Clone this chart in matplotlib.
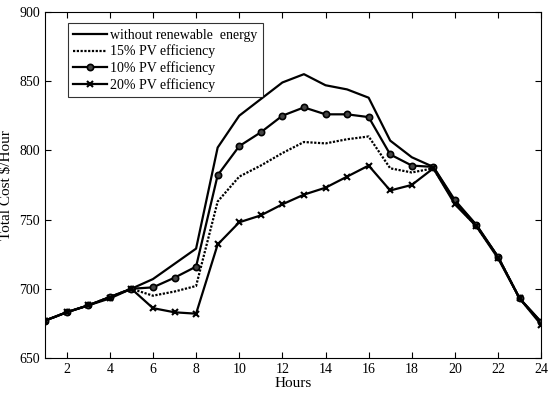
import matplotlib.pyplot as plt

plt.rcParams['font.family'] = ['Liberation Serif', 'DejaVu Serif']

hours = list(range(1, 25))

no_renewable = [677, 683, 688, 694, 700, 707, 718, 729, 802, 825, 837, 849,
                855, 847, 844, 838, 807, 795, 788, 763, 746, 723, 693, 676]
pv_15 = [677, 683, 688, 694, 700, 695, 698, 702, 763, 781, 789, 798,
         806, 805, 808, 810, 787, 784, 787, 762, 745, 723, 693, 675]
pv_10 = [677, 683, 688, 694, 700, 701, 708, 716, 782, 803, 813, 825,
         831, 826, 826, 824, 797, 789, 788, 764, 746, 723, 693, 676]
pv_20 = [677, 683, 688, 693, 700, 686, 683, 682, 732, 748, 753, 761,
         768, 773, 781, 789, 771, 775, 787, 761, 745, 722, 693, 674]

fig = plt.figure(figsize=(5.5, 3.96), dpi=100)
ax = fig.add_axes([0.082, 0.096, 0.902, 0.874])

ax.plot(hours, no_renewable, '-', color='black', lw=1.6, label='without renewable  energy')
ax.plot(hours, pv_15, linestyle=(0, (1, 0.7)), color='black', lw=1.6,
        label='15% PV efficiency')
ax.plot(hours, pv_10, 'o-', color='black', lw=1.6, ms=4.5, mfc='#444444',
        mew=1.2, label='10% PV efficiency')
ax.plot(hours, pv_20, 'x-', color='black', lw=1.6, ms=5, mew=1.5,
        label='20% PV efficiency')

ax.set_xlim(1, 24)
ax.set_ylim(650, 900)
ax.set_xticks(range(2, 25, 2))
ax.set_yticks(range(650, 901, 50))
ax.tick_params(direction='in', top=True, right=True, labelsize=10, length=4)
ax.set_xlabel('Hours', fontsize=11, labelpad=1)
ax.set_ylabel('Total Cost $/Hour', fontsize=11)
ax.yaxis.set_label_coords(-0.064, 0.5)

leg = ax.legend(loc='upper left', bbox_to_anchor=(0.046, 0.967), fontsize=10,
                frameon=True, fancybox=False, edgecolor='black',
                handlelength=2.4, handletextpad=0.2, labelspacing=0.2,
                borderpad=0.4, borderaxespad=0)
leg.get_frame().set_linewidth(0.8)

fig.savefig('out.png', dpi=100)
